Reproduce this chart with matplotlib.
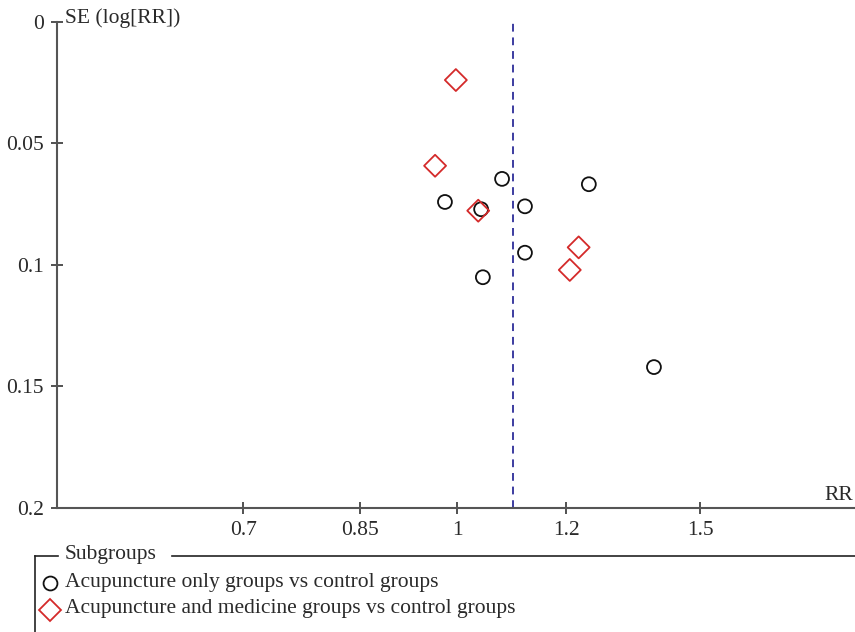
import numpy as np
import matplotlib.pyplot as plt
from matplotlib.lines import Line2D

plt.rcParams['font.family'] = ['Liberation Serif', 'DejaVu Serif']

# acupuncture only vs control
acu_rr = [1.078, 0.980, 1.041, 1.120, 1.246, 1.120, 1.044, 1.389]
acu_se = [0.0646, 0.0741, 0.0771, 0.0759, 0.0668, 0.0950, 0.1051, 0.1421]
# acupuncture + medicine vs control
med_rr = [0.998, 0.964, 1.036, 1.225, 1.207]
med_se = [0.0239, 0.0592, 0.0777, 0.0928, 0.1021]
pooled_rr = 1.097

xticks = [0.7, 0.85, 1, 1.2, 1.5]
xtick_labels = ["0.7", "0.85", "1", "1.2", "1.5"]
yticks = [0, 0.05, 0.1, 0.15, 0.2]
ytick_labels = ["0", "0.05", "0.1", "0.15", "0.2"]

W, H = 855, 632
fig = plt.figure(figsize=(W / 100, H / 100), dpi=100)
ax = fig.add_axes([57 / W, 1 - 507.7 / H, 1 - 57 / W, (507.7 - 22) / H])

txt = '#2a2a2a'
axc = '#555555'
fs = 15.5

ax.scatter(acu_rr, acu_se, s=100, marker='o', facecolors='none',
           edgecolors='#111111', linewidths=1.3, zorder=3)
ax.scatter(med_rr, med_se, s=125, marker='D', facecolors='none',
           edgecolors='#d42a2a', linewidths=1.3, zorder=3)
ax.axvline(pooled_rr, color='#3c3ca0', ls=(0, (4, 3)), lw=1.4, zorder=2)

ax.set_xscale('log')
ax.set_xlim(np.exp(-0.6676), np.exp(0.6641))
ax.set_ylim(0.2, 0)
ax.set_xticks(xticks)
ax.set_xticklabels(xtick_labels)
ax.xaxis.set_minor_locator(plt.NullLocator())
ax.set_yticks(yticks)
ax.set_yticklabels(ytick_labels)

for s in ['top', 'right']:
    ax.spines[s].set_visible(False)
for s in ['left', 'bottom']:
    ax.spines[s].set_color(axc)
    ax.spines[s].set_linewidth(1.5)
ax.tick_params(direction='inout', length=9, width=1.2, color='#333333',
               labelsize=fs, labelcolor=txt, pad=5)

fig.text(65 / W, 1 - 18 / H, "SE (log[RR])", fontsize=fs, color=txt,
         ha='left', va='center')
fig.text(853 / W, 1 - 496 / H, "RR", fontsize=fs, color=txt,
         ha='right', va='center')

# legend box
lc = '#222222'
fig.add_artist(Line2D([35 / W, 58 / W], [1 - 556 / H] * 2, color=lc, lw=1.2))
fig.add_artist(Line2D([172 / W, 1], [1 - 556 / H] * 2, color=lc, lw=1.2))
fig.add_artist(Line2D([35 / W] * 2, [1 - 556 / H, 0], color=lc, lw=1.2))
fig.text(65 / W, 1 - 554 / H, "Subgroups", fontsize=fs, color=txt,
         ha='left', va='center')

fig.add_artist(Line2D([50 / W], [1 - 583 / H], marker='o', ms=10, mfc='none',
                      mec='#111111', mew=1.3, ls='none'))
fig.text(65 / W, 1 - 582 / H, "Acupuncture only groups vs control groups",
         fontsize=fs, color=txt, ha='left', va='center')
fig.add_artist(Line2D([50 / W], [1 - 610 / H], marker='D', ms=11, mfc='none',
                      mec='#d42a2a', mew=1.3, ls='none'))
fig.text(65 / W, 1 - 609 / H, "Acupuncture and medicine groups vs control groups",
         fontsize=fs, color=txt, ha='left', va='center')

fig.savefig('out.png', dpi=100)
